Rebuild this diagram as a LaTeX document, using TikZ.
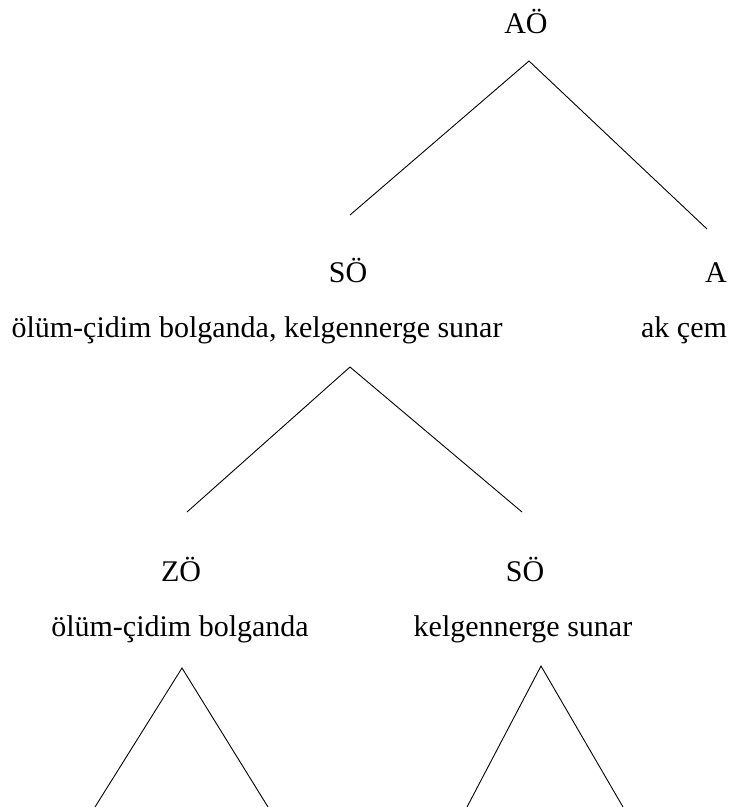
\documentclass[tikz,border=0pt]{standalone}
\usepackage{fontspec}
\setmainfont{Liberation Serif}
\usepackage{tikz}
\usetikzlibrary{positioning,calc}
\tikzset{
  every node/.style={font=\fontsize{30}{36}\selectfont},
  % --- nodes
  cat/.style  = {anchor=base, inner sep=0pt},
  phr/.style  = {anchor=base, inner sep=0pt},
  % --- edges
  br/.style   = {draw=black, line width=0.9pt},
}
\begin{document}
\begin{tikzpicture}[x=1pt,y=-1pt]
  \useasboundingbox (0,0) rectangle (736,807);

  \node[cat] (aoe)  at (526,33)  {AÖ};
  \node[cat] (soe)  at (348,282) {SÖ};
  \node[cat] (a)    at (716,282) {A};
  \node[phr] (soet) at (257,337) {ölüm-çidim bolganda, kelgennerge sunar};
  \node[phr] (at)   at (684,337) {ak çem};
  \node[cat] (zoe)  at (181,581) {ZÖ};
  \node[cat] (soe2) at (525,581) {SÖ};
  \node[phr] (zoet) at (180,636) {ölüm-çidim bolganda};
  \node[phr] (soe2t) at (523,636) {kelgennerge sunar};

  % branch points
  \coordinate (aoe-f)  at (529,61);
  \coordinate (soe-h)  at (350,215);
  \coordinate (a-h)    at (707,229);
  \coordinate (soet-f) at (350,367);
  \coordinate (zoe-h)  at (187,512);
  \coordinate (soe2-h) at (522,512);
  \coordinate (zoet-f) at (182,668);
  \coordinate (soe2t-f) at (541,666);
  \coordinate (zl) at (95,807);  \coordinate (zr) at (268,807);
  \coordinate (sl) at (467,807); \coordinate (sr) at (623,807);

  \draw[br] (soe-h)--(aoe-f)--(a-h);
  \draw[br] (zoe-h)--(soet-f)--(soe2-h);
  \draw[br] (zl)--(zoet-f)--(zr);
  \draw[br] (sl)--(soe2t-f)--(sr);
\end{tikzpicture}
\end{document}
